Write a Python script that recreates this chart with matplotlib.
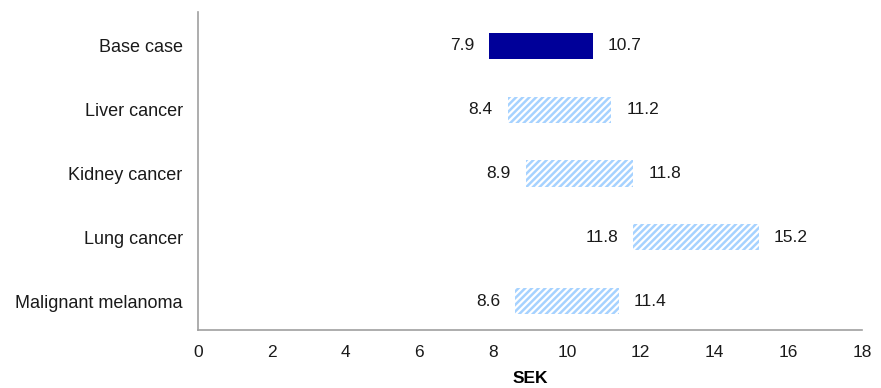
import matplotlib
matplotlib.use("Agg")
import matplotlib.pyplot as plt

# Scenario ranges in SEK (low / high estimates)
scenarios = ["Base case", "Liver cancer", "Kidney cancer", "Lung cancer", "Malignant melanoma"]
low_vals = [7.9, 8.4, 8.9, 11.8, 8.6]
high_vals = [10.7, 11.2, 11.8, 15.2, 11.4]
x_ticks = [0, 2, 4, 6, 8, 10, 12, 14, 16, 18]

plt.rcParams["font.family"] = ["Liberation Sans", "DejaVu Sans"]
plt.rcParams["hatch.linewidth"] = 1.8

fig = plt.figure(figsize=(8.81, 3.88), dpi=100)
ax = fig.add_axes([0.2247, 0.1495, 0.7537, 0.8196])

for i, (name, lo, hi) in enumerate(zip(scenarios, low_vals, high_vals)):
    if i == 0:
        ax.barh(i, hi - lo, left=lo, height=0.41, color="#000099", linewidth=0)
    else:
        ax.barh(i, hi - lo, left=lo, height=0.41, facecolor="white",
                edgecolor="#a6d2ff", hatch="/////", linewidth=0)
    ax.annotate(f"{lo:.1f}", (lo, i), xytext=(-11, 0), textcoords="offset points",
                ha="right", va="center", fontsize=12.5, color="#1a1a1a")
    ax.annotate(f"{hi:.1f}", (hi, i), xytext=(11, 0), textcoords="offset points",
                ha="left", va="center", fontsize=12.5, color="#1a1a1a")

ax.set_xlim(0, 18)
ax.set_ylim(4.45, -0.53)
ax.set_xticks(x_ticks)
ax.set_yticks(range(len(scenarios)))
ax.set_yticklabels(scenarios)
ax.tick_params(axis="both", length=0, labelsize=12.5, colors="#1a1a1a")
ax.tick_params(axis="y", pad=11, labelsize=13)
ax.tick_params(axis="x", pad=11)
ax.set_xlabel("SEK", fontsize=12.5, fontweight="bold", labelpad=8)

for side in ["top", "right"]:
    ax.spines[side].set_visible(False)
for side in ["left", "bottom"]:
    ax.spines[side].set_color("#a0a0a0")
    ax.spines[side].set_linewidth(1.2)

fig.savefig("out.png", dpi=100)
